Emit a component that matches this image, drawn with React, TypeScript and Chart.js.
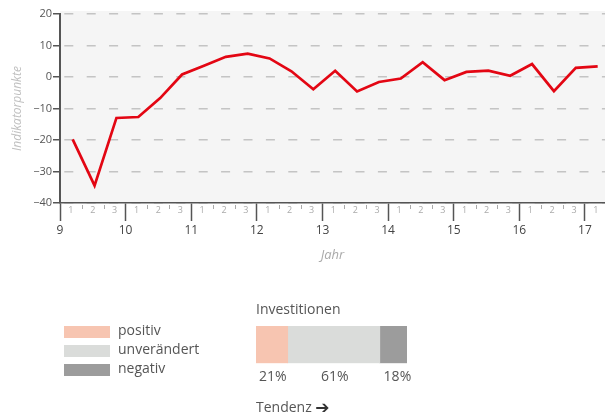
import { useEffect, useRef } from "react";
import { Chart, registerables } from "chart.js";

Chart.register(...registerables);

// ---- data ----
const years = [9, 10, 11, 12, 13, 14, 15, 16, 17];
const tertialLabels = ["1", "2", "3"];
const periodYears = [9, 9, 9, 10, 10, 10, 11, 11, 11, 12, 12, 12, 13, 13, 13, 14, 14, 14, 15, 15, 15, 16, 16, 16, 17];
const periodTertials = [1, 2, 3, 1, 2, 3, 1, 2, 3, 1, 2, 3, 1, 2, 3, 1, 2, 3, 1, 2, 3, 1, 2, 3, 1];
const indicatorValues = [
  -19.8, -34.5, -13.0, -12.7, -6.7, 0.8, 3.6, 6.4, 7.4, 5.9, 1.8, -3.9, 2.0,
  -4.6, -1.6, -0.5, 4.7, -1.0, 1.6, 2.0, 0.4, 4.1, -4.5, 2.9, 3.4,
];
const yTicks = [-40, -30, -20, -10, 0, 10, 20];
const yTitle = "Indikatorpunkte";
const xTitle = "Jahr";

const investTitle = "Investitionen";
const shareLabels = ["positiv", "unverändert", "negativ"];
const shareValues = [21, 61, 18];
const shareColors = ["#f7c5b1", "#dadcda", "#9c9c9c"];
const trendLabel = "Tendenz";

const FONT = '"Open Sans", sans-serif';

const bgPlugin = {
  id: "plotBg",
  beforeDraw(chart: any) {
    const { ctx, chartArea } = chart;
    const { left, top, right, bottom } = chartArea;
    ctx.save();
    ctx.fillStyle = "#f5f5f5";
    ctx.fillRect(left, top - 3, right - left, bottom - top + 3);
    ctx.restore();
  },
};

const tertialPlugin = {
  id: "tertials",
  afterDraw(chart: any) {
    const { ctx, chartArea } = chart;
    const xs = chart.scales.x;
    const { bottom, right } = chartArea;
    ctx.save();
    ctx.font = `9px ${FONT}`;
    ctx.fillStyle = "#aaaaaa";
    ctx.textAlign = "center";
    ctx.textBaseline = "middle";
    ctx.strokeStyle = "#aaaaaa";
    ctx.lineWidth = 1;
    years.forEach((yr) => {
      tertialLabels.forEach((lab, t) => {
        const px = xs.getPixelForValue(yr + (t + 0.5) / 3);
        if (px < right - 3) ctx.fillText(lab, px, bottom + 7.5);
        if (t < 2) {
          const bx = Math.round(xs.getPixelForValue(yr + (t + 1) / 3)) + 0.5;
          if (bx <= right) {
            ctx.beginPath();
            ctx.moveTo(bx, bottom + 2);
            ctx.lineTo(bx, bottom + 6);
            ctx.stroke();
          }
        }
      });
    });
    ctx.restore();
  },
};

const investPlugin = {
  id: "investTexts",
  afterDraw(chart: any) {
    const { ctx, chartArea } = chart;
    const { left, top, bottom } = chartArea;
    const xs = chart.scales.x;
    ctx.save();
    ctx.font = `14px ${FONT}`;
    ctx.fillStyle = "#555555";
    ctx.textBaseline = "middle";
    ctx.textAlign = "left";
    ctx.fillText(investTitle, left, top - 16);

    let cum = 0;
    shareValues.forEach((v, i) => {
      const x0 = xs.getPixelForValue(cum);
      const x1 = xs.getPixelForValue(cum + v);
      cum += v;
      ctx.textAlign = "center";
      const shift = i === shareValues.length - 1 ? 4 : 1;
      ctx.fillText(`${v}%`, (x0 + x1) / 2 + shift, bottom + 14);
    });

    shareLabels.forEach((lab, i) => {
      ctx.fillStyle = shareColors[i];
      ctx.fillRect(64, top + 19 * i, 46, 12);
      ctx.fillStyle = "#555555";
      ctx.textAlign = "left";
      ctx.fillText(lab, 118, top + 19 * i + 5.5);
    });

    ctx.textAlign = "left";
    ctx.fillText(trendLabel, left, bottom + 45);
    const w = ctx.measureText(trendLabel + " ").width;
    ctx.font = `bold 17px "DejaVu Sans", sans-serif`;
    ctx.fillStyle = "#333333";
    ctx.fillText("\u2794", left + w, bottom + 45);
    ctx.restore();
  },
};

export default function App() {
  const lineRef = useRef<HTMLCanvasElement | null>(null);
  const barRef = useRef<HTMLCanvasElement | null>(null);

  useEffect(() => {
    document.body.style.margin = "0";
    Chart.defaults.font.family = FONT;
    const points = indicatorValues.map((v, i) => ({
      x: periodYears[i] + (periodTertials[i] - 0.42) / 3,
      y: v,
    }));

    const lineChart = new Chart(lineRef.current as HTMLCanvasElement, {
      type: "line",
      data: {
        datasets: [
          {
            data: points,
            borderColor: "#e30613",
            borderWidth: 2.7,
            pointRadius: 0,
            tension: 0,
            fill: false,
          },
        ],
      },
      options: {
        responsive: false,
        animation: false,
        layout: { padding: { top: 14, left: 0, right: 0, bottom: 0 } },
        plugins: { legend: { display: false }, tooltip: { enabled: false } },
        scales: {
          x: {
            type: "linear",
            min: 9,
            max: 17.305,
            afterBuildTicks: (s: any) => {
              s.ticks = years.map((v) => ({ value: v }));
            },
            afterFit: (s: any) => {
              s.height = 67;
            },
            grid: {
              drawOnChartArea: false,
              drawTicks: true,
              tickLength: 18,
              tickColor: "#555555",
              tickWidth: 1.5,
            },
            border: { display: true, color: "#555555", width: 1.5 },
            ticks: {
              color: "#444444",
              font: { size: 12, family: FONT },
              padding: 2,
              maxRotation: 0,
              autoSkip: false,
              callback: (v: any) => String(v),
            },
            title: {
              display: true,
              text: xTitle,
              color: "#aaaaaa",
              font: { size: 13, style: "italic", family: FONT },
              padding: { top: 0, bottom: 7 },
            },
          },
          y: {
            min: -40,
            max: 20,
            afterBuildTicks: (s: any) => {
              s.ticks = yTicks.map((v) => ({ value: v }));
            },
            afterFit: (s: any) => {
              s.width = 60;
            },
            grid: {
              color: "#c4c4c4",
              lineWidth: 1.5,
              drawTicks: true,
              tickLength: 7,
              tickColor: "#555555",
              tickWidth: 1.5,
            },
            border: {
              display: true,
              color: "#555555",
              width: 2,
              dash: [9, 13.4],
              dashOffset: 19.1,
            },
            ticks: {
              color: "#555555",
              font: { size: 11, family: FONT },
              padding: 1,
              callback: (v: any) => (v < 0 ? "\u2212" + Math.abs(v) : String(v)),
            },
            title: {
              display: true,
              text: yTitle,
              color: "#c0c0c0",
              font: { size: 12, style: "italic", family: FONT },
              padding: { top: 10, bottom: 0 },
            },
          },
        },
      },
      plugins: [bgPlugin, tertialPlugin],
    } as any);

    const barChart = new Chart(barRef.current as HTMLCanvasElement, {
      type: "bar",
      data: {
        labels: [investTitle],
        datasets: shareLabels.map((lab, i) => ({
          label: lab,
          data: [shareValues[i]],
          backgroundColor: shareColors[i],
          borderWidth: 0,
          barPercentage: 1,
          categoryPercentage: 1,
        })),
      },
      options: {
        indexAxis: "y",
        responsive: false,
        animation: false,
        layout: { padding: { left: 256, right: 198, top: 36, bottom: 52.7 } },
        plugins: { legend: { display: false }, tooltip: { enabled: false } },
        scales: {
          x: { stacked: true, min: 0, max: 100, display: false },
          y: { stacked: true, display: false },
        },
      },
      plugins: [investPlugin],
    } as any);

    return () => {
      lineChart.destroy();
      barChart.destroy();
    };
  }, []);

  return (
    <div style={{ position: "relative", width: 605, height: 416, background: "#ffffff" }}>
      <canvas
        ref={lineRef}
        width={605}
        height={270}
        style={{ position: "absolute", left: 0, top: 0, width: 605, height: 270 }}
      />
      <canvas
        ref={barRef}
        width={605}
        height={126}
        style={{ position: "absolute", left: 0, top: 290, width: 605, height: 126 }}
      />
    </div>
  );
}
